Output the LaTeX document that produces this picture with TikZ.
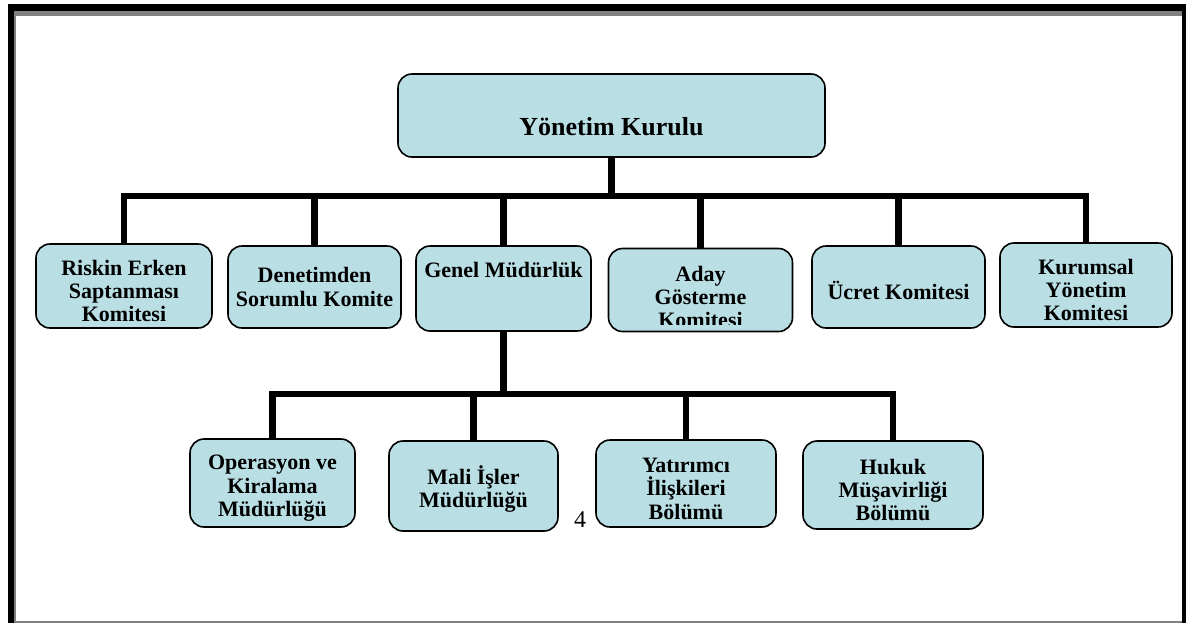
\documentclass[tikz,border=0pt]{standalone}
\usepackage{fontspec}
\setmainfont{Liberation Serif}
\definecolor{boxfill}{RGB}{185,223,228}
\definecolor{framegray}{RGB}{128,128,128}
\newcommand{\bxstrut}{\rule{0pt}{12.5pt}}
\begin{document}
\begin{tikzpicture}[x=0.5pt,y=-0.5pt,
    box/.style={draw=black,line width=0.8pt,fill=boxfill,rounded corners=7pt,align=center,inner sep=1pt,
      font=\bfseries\fontsize{11}{11.6}\selectfont},
    conn/.style={line width=3.2pt,black}]
    \useasboundingbox (0,0) rectangle (1187,623);
    \fill[black] (8,4) rectangle (1186,11);
    \fill[black] (8,4) rectangle (14,623);
    \fill[black] (1182,4) rectangle (1186,623);
    \fill[framegray] (14,11) rectangle (1182,16);
    \fill[framegray] (14,11) rectangle (16,623);
    \fill[framegray] (14,620.5) rectangle (1182,622.5);

    \node[box,minimum width=213.5pt,minimum height=41.5pt,font=\bfseries\fontsize{13}{15}\selectfont,
      text height=20pt,text depth=0.5pt] (yk) at (611.5,115.5) {Yönetim Kurulu};

    \node[box,minimum width=88pt,minimum height=42pt] (rek) at (124,286) {\bxstrut Riskin Erken\\Saptanması\\Komitesi};
    \node[box,minimum width=86.5pt,minimum height=41pt] (dsk) at (314.5,287) {Denetimden\\Sorumlu Komite};
    \node[box,minimum width=87.5pt,minimum height=42.5pt,text height=8pt,text depth=19pt] (gm) at (503.5,288.5) {Genel Müdürlük};
    \node[box,minimum width=92pt,minimum height=41.5pt,
      path picture={\clip ([yshift=3.3pt]path picture bounding box.south west) rectangle (path picture bounding box.north east);
        \node[align=center,font=\bfseries\fontsize{11}{11.4}\selectfont] (agkt) at ([yshift=-3.5pt]path picture bounding box.center) {Aday\\Gösterme\\Komitesi};}]
      (agk) at (700.5,290) {};
    \node[box,minimum width=86.5pt,minimum height=41pt] (uk) at (898.5,287) {\bxstrut Ücret Komitesi};
    \node[box,minimum width=86pt,minimum height=42pt] (kyk) at (1086,285) {\bxstrut Kurumsal\\Yönetim\\Komitesi};

    \node[box,minimum width=82.5pt,minimum height=44pt] (okm) at (272.5,483) {\bxstrut Operasyon ve\\Kiralama\\Müdürlüğü};
    \node[box,minimum width=84.5pt,minimum height=45pt] (mim) at (473.5,486) {\bxstrut Mali İşler\\Müdürlüğü};
    \node[box,minimum width=90pt,minimum height=43.5pt] (yib) at (686,483.5) {\bxstrut Yatırımcı\\İlişkileri\\Bölümü};
    \node[box,minimum width=90pt,minimum height=44pt] (hmb) at (893,485) {\bxstrut Hukuk\\Müşavirliği\\Bölümü};

    \node[font=\fontsize{12}{14}\selectfont,inner sep=0pt] (pg) at (580,519.5) {4};

    \coordinate (bus1) at (612,196);
    \coordinate (bus2) at (506,394);
    \draw[conn] (yk.south) -- (yk.south |- bus1);
    \draw[conn] (rek.north) |- (bus1);
    \draw[conn] (dsk.north) |- (bus1);
    \draw[conn] (gm.north) |- (bus1);
    \draw[conn] (agk.north) |- (bus1);
    \draw[conn] (uk.north) |- (bus1);
    \draw[conn] (kyk.north) |- (bus1);
    \draw[conn] (gm.south) -- (gm.south |- bus2);
    \draw[conn] (okm.north) |- (bus2);
    \draw[conn] (mim.north) |- (bus2);
    \draw[conn] (yib.north) |- (bus2);
    \draw[conn] (hmb.north) |- (bus2);
\end{tikzpicture}
\end{document}
